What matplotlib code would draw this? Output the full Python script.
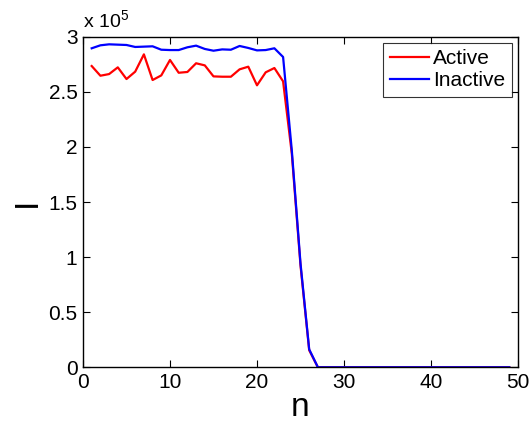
import numpy as np
import matplotlib
matplotlib.use("Agg")
import matplotlib.pyplot as plt
from matplotlib.ticker import FuncFormatter, MultipleLocator

plt.rcParams['font.family'] = ['Liberation Sans', 'DejaVu Sans']
plt.rcParams['mathtext.fontset'] = 'custom'
plt.rcParams['mathtext.rm'] = 'Liberation Sans'

# Layer index
n = np.arange(1, 50)

# Intensity per layer (raw counts)
active = np.array([
    2.734, 2.646, 2.661, 2.722, 2.616, 2.683, 2.840, 2.607, 2.649, 2.789,
    2.673, 2.680, 2.759, 2.740, 2.640, 2.637, 2.637, 2.704, 2.728, 2.559,
    2.677, 2.716, 2.595, 1.940, 0.925, 0.155, 0.0, 0.0, 0.0, 0.0,
    0.0, 0.0, 0.0, 0.0, 0.0, 0.0, 0.0, 0.0, 0.0, 0.0,
    0.0, 0.0, 0.0, 0.0, 0.0, 0.0, 0.0, 0.0, 0.0]) * 1e5

inactive = np.array([
    2.895, 2.922, 2.931, 2.928, 2.925, 2.907, 2.910, 2.913, 2.882, 2.879,
    2.879, 2.904, 2.919, 2.889, 2.873, 2.885, 2.882, 2.916, 2.898, 2.876,
    2.879, 2.895, 2.816, 1.970, 0.944, 0.163, 0.0, 0.0, 0.0, 0.0,
    0.0, 0.0, 0.0, 0.0, 0.0, 0.0, 0.0, 0.0, 0.0, 0.0,
    0.0, 0.0, 0.0, 0.0, 0.0, 0.0, 0.0, 0.0, 0.0]) * 1e5

fig = plt.figure(figsize=(5.31, 4.25), dpi=100)
ax = fig.add_axes([0.1563, 0.1358, 0.8192, 0.7778])

ax.plot(n, active, color=(1, 0, 0), lw=1.6, label='Active')
ax.plot(n, inactive, color=(0, 0, 1), lw=1.6, label='Inactive')

ax.set_xlim(0, 50)
ax.set_ylim(0, 3e5)
ax.xaxis.set_major_locator(MultipleLocator(10))
ax.yaxis.set_major_locator(MultipleLocator(0.5e5))
ax.yaxis.set_major_formatter(FuncFormatter(lambda v, p: f"{v/1e5:g}"))

ax.tick_params(direction='in', top=True, right=True, length=5, width=0.8,
               labelsize=15, pad=4)
for s in ax.spines.values():
    s.set_linewidth(1.0)

ax.set_xlabel('n', fontsize=24, labelpad=0)
ax.set_ylabel('I', fontsize=24, labelpad=4)

ax.text(0.0, 1.015, r'x 10$^{5}$', transform=ax.transAxes, fontsize=14,
        ha='left', va='bottom')

leg = ax.legend(loc='upper right', fontsize=15, frameon=True, fancybox=False,
                edgecolor='black', handlelength=1.9, handletextpad=0.2,
                borderpad=0.3, labelspacing=0.15, borderaxespad=0.3)
leg.get_frame().set_linewidth(0.8)

fig.savefig('out.png', dpi=100)
